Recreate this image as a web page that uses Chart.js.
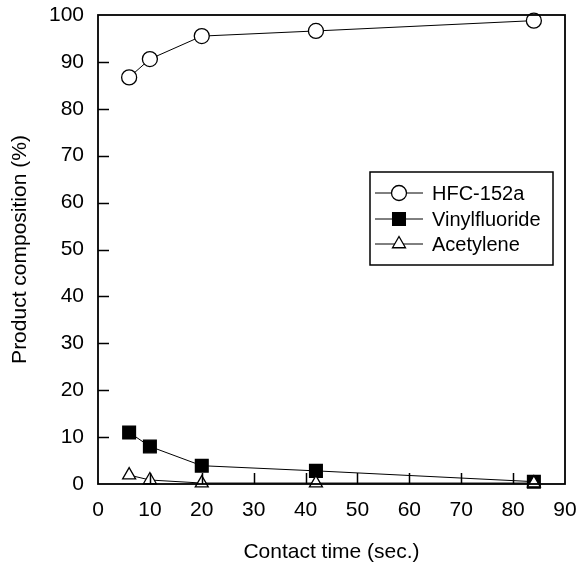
<!DOCTYPE html>
<html lang="en">
<head>
<meta charset="UTF-8">
<title>Product composition vs contact time</title>
<script src="https://cdn.jsdelivr.net/npm/chart.js@4.4.1/dist/chart.umd.min.js"></script>
<style>
  html, body { margin: 0; padding: 0; background: #fff; }
  #wrap { width: 581px; height: 565px; }
</style>
</head>
<body>
<div id="wrap"><canvas id="myChart" width="581" height="565"></canvas></div>
<script>
// data
const contactTime = [6, 10, 20, 42, 84];
const hfc152a = [86.7, 90.6, 95.5, 96.6, 98.8];
const vinylfluoride = [11.0, 8.0, 3.9, 2.8, 0.5];
const acetylene = [1.9, 0.85, 0.2, 0.2, 0.2];

const xTicks = [0, 10, 20, 30, 40, 50, 60, 70, 80, 90];
const yTicks = [0, 10, 20, 30, 40, 50, 60, 70, 80, 90, 100];

const FONT = 'Arial, "Liberation Sans", Helvetica, sans-serif';

function pts(ys) {
  return contactTime.map((x, i) => ({ x: x, y: ys[i] }));
}

// frame, inward tick marks and the boxed legend
const framePlugin = {
  id: 'frame',
  afterDraw(chart) {
    const { ctx, chartArea: a, scales } = chart;
    ctx.save();
    ctx.strokeStyle = '#000';
    ctx.lineWidth = 1.8;
    ctx.strokeRect(a.left, a.top, a.right - a.left, a.bottom - a.top);

    ctx.lineWidth = 1.5;
    ctx.beginPath();
    yTicks.slice(1, -1).forEach(v => {
      const y = Math.round(scales.y.getPixelForValue(v)) + 0.5;
      ctx.moveTo(a.left, y);
      ctx.lineTo(a.left + 11, y);
    });
    xTicks.slice(1, -1).forEach(v => {
      const x = Math.round(scales.x.getPixelForValue(v)) + 0.5;
      ctx.moveTo(x, a.bottom);
      ctx.lineTo(x, a.bottom - 11);
    });
    ctx.stroke();

    // legend
    const box = { left: 370, top: 172, right: 553, bottom: 265 };
    ctx.fillStyle = '#fff';
    ctx.fillRect(box.left, box.top, box.right - box.left, box.bottom - box.top);
    ctx.lineWidth = 1.5;
    ctx.strokeRect(box.left, box.top, box.right - box.left, box.bottom - box.top);

    const rows = [193, 219, 244];
    chart.data.datasets.forEach((ds, i) => {
      const y = rows[i];
      ctx.lineWidth = 1;
      ctx.strokeStyle = '#000';
      ctx.beginPath();
      ctx.moveTo(375, y);
      ctx.lineTo(423, y);
      ctx.stroke();
      ctx.fillStyle = ds.pointBackgroundColor;
      ctx.lineWidth = ds.pointBorderWidth;
      Chart.helpers.drawPoint(ctx, {
        pointStyle: ds.pointStyle,
        radius: ds.pointRadius,
        borderWidth: ds.pointBorderWidth
      }, 399, y);
      ctx.fillStyle = '#000';
      ctx.font = '20px ' + FONT;
      ctx.textAlign = 'left';
      ctx.textBaseline = 'middle';
      ctx.fillText(ds.label, 432, y + 1);
    });
    ctx.restore();
  }
};

const common = {
  showLine: true,
  borderColor: '#000',
  borderWidth: 1,
  pointBorderColor: '#000',
  pointBorderWidth: 1.3,
  clip: false
};

new Chart(document.getElementById('myChart'), {
  type: 'scatter',
  data: {
    datasets: [
      Object.assign({}, common, {
        label: 'HFC-152a',
        data: pts(hfc152a),
        pointStyle: 'circle',
        pointRadius: 7.5,
        pointBackgroundColor: '#fff',
        order: 2
      }),
      Object.assign({}, common, {
        label: 'Vinylfluoride',
        data: pts(vinylfluoride),
        pointStyle: 'rect',
        pointRadius: 9,
        pointBackgroundColor: '#000',
        order: 1
      }),
      Object.assign({}, common, {
        label: 'Acetylene',
        data: pts(acetylene),
        pointStyle: 'triangle',
        pointRadius: 7.5,
        pointBackgroundColor: '#fff',
        order: 0
      })
    ]
  },
  options: {
    responsive: false,
    animation: false,
    layout: { padding: { top: 15, right: 16, bottom: 0, left: 0 } },
    plugins: {
      legend: { display: false },
      tooltip: { enabled: false }
    },
    scales: {
      x: {
        type: 'linear',
        min: 0,
        max: 90,
        afterBuildTicks(scale) { scale.ticks = xTicks.map(v => ({ value: v })); },
        afterFit(scale) {
          scale.height = 81;
          scale.paddingLeft = 0;
          scale.paddingRight = 0;
        },
        grid: { display: false, drawTicks: false },
        border: { display: false },
        ticks: { color: '#000', padding: 14, font: { size: 21, family: FONT } },
        title: {
          display: true,
          text: 'Contact time (sec.)',
          color: '#000',
          padding: { top: 0, bottom: 0 },
          font: { size: 21, family: FONT }
        }
      },
      y: {
        type: 'linear',
        min: 0,
        max: 100,
        afterBuildTicks(scale) { scale.ticks = yTicks.map(v => ({ value: v })); },
        afterFit(scale) {
          scale.width = 98;
          scale.paddingTop = 0;
          scale.paddingBottom = 0;
        },
        grid: { display: false, drawTicks: false },
        border: { display: false },
        ticks: { color: '#000', padding: 14, font: { size: 21, family: FONT } },
        title: {
          display: true,
          text: 'Product composition (%)',
          color: '#000',
          padding: { top: 8, bottom: 0 },
          font: { size: 21, family: FONT }
        }
      }
    }
  },
  plugins: [framePlugin]
});
</script>
</body>
</html>
